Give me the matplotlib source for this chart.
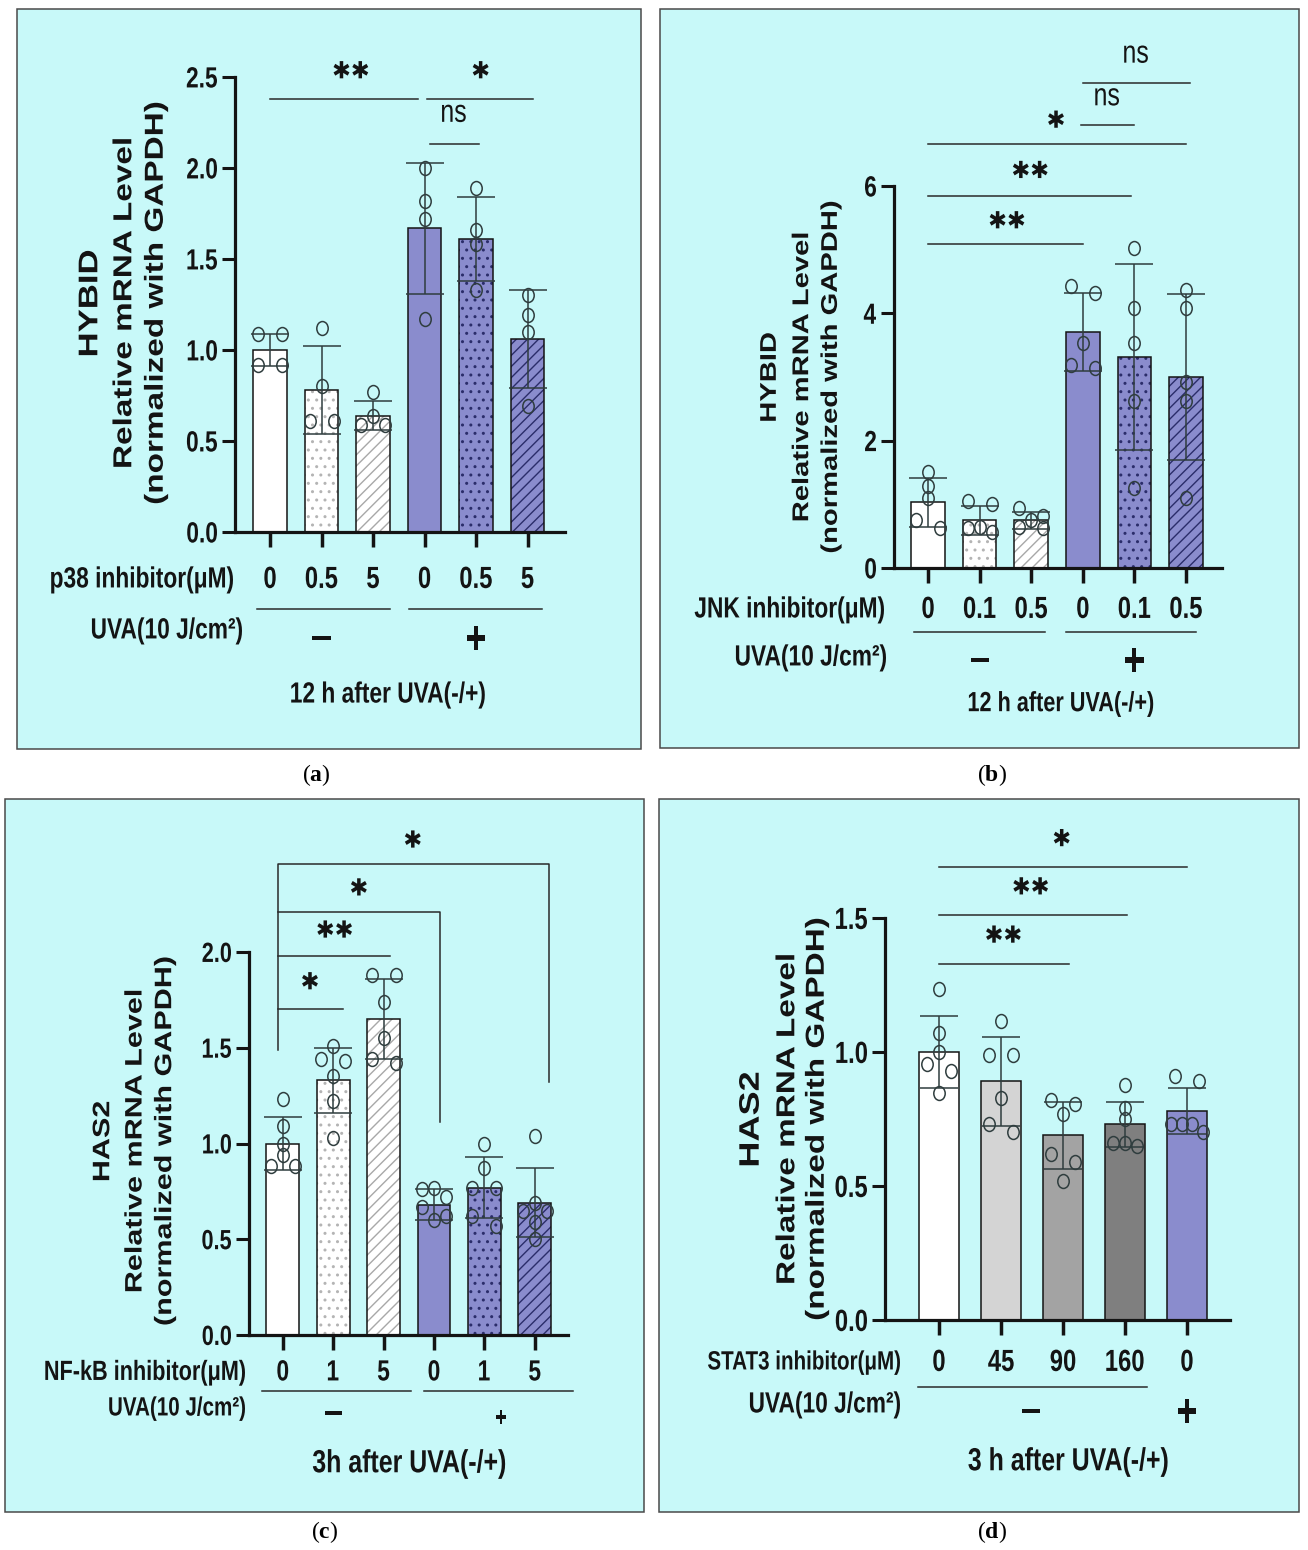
import numpy as np
import matplotlib
matplotlib.use('Agg')
import matplotlib.pyplot as plt
import matplotlib.transforms as mtransforms
from matplotlib.font_manager import FontProperties
from matplotlib.patches import PathPatch, Rectangle
from matplotlib.path import Path
from matplotlib.textpath import TextPath

W, H = 1308, 1550
DPI = 100
SQ = 0.78            # lettering is drawn horizontally condensed
INK = '#141414'
LINE = '#2a2a2a'
DOTC = '#2f3d3e'
BG = '#c8f9f9'
PURPLE = '#8a8ccd'

plt.rcParams['mathtext.fontset'] = 'custom'
plt.rcParams['mathtext.rm'] = 'Liberation Serif'
plt.rcParams['mathtext.bf'] = 'Liberation Serif:bold'

# ---------------- data ----------------
# (a) HYBID, p38 inhibitor, 12 h
a_dose = ['0', '0.5', '5', '0', '0.5', '5']
a_mean = [1.00, 0.78, 0.64, 1.67, 1.61, 1.06]
a_sd = [0.09, 0.24, 0.08, 0.36, 0.23, 0.27]
a_pts = [[1.09, 1.09, 0.92, 0.92],
         [1.12, 0.80, 0.61, 0.61],
         [0.77, 0.64, 0.59, 0.59],
         [2.00, 1.82, 1.72, 1.17],
         [1.89, 1.66, 1.58, 1.33],
         [1.30, 1.19, 1.10, 0.69]]

# (b) HYBID, JNK inhibitor, 12 h
b_dose = ['0', '0.1', '0.5', '0', '0.1', '0.5']
b_mean = [1.03, 0.75, 0.75, 3.71, 3.31, 3.00]
b_sd = [0.38, 0.23, 0.13, 0.61, 1.46, 1.30]
b_pts = [[1.51, 1.29, 1.105, 0.75, 0.63],
         [1.05, 1.00, 0.64, 0.63, 0.56],
         [0.95, 0.82, 0.76, 0.64, 0.63],
         [4.43, 4.32, 3.54, 3.19, 3.14],
         [5.03, 4.08, 3.54, 2.63, 1.25],
         [4.36, 4.09, 2.92, 2.62, 1.10]]

# (c) HAS2, NF-kB inhibitor, 3 h
c_dose = ['0', '1', '5', '0', '1', '5']
c_mean = [1.00, 1.33, 1.65, 0.68, 0.77, 0.69]
c_sd = [0.14, 0.17, 0.21, 0.08, 0.16, 0.18]
c_pts = [[1.23, 1.09, 1.00, 0.94, 0.885, 0.885],
         [1.51, 1.44, 1.43, 1.35, 1.22, 1.03],
         [1.88, 1.88, 1.74, 1.55, 1.44, 1.42],
         [0.77, 0.76, 0.72, 0.67, 0.62, 0.60],
         [1.00, 0.87, 0.77, 0.77, 0.62, 0.57],
         [1.04, 0.69, 0.65, 0.65, 0.59, 0.50]]

# (d) HAS2, STAT3 inhibitor, 3 h
d_dose = ['0', '45', '90', '160', '0']
d_mean = [1.00, 0.89, 0.69, 0.73, 0.78]
d_sd = [0.135, 0.165, 0.125, 0.085, 0.085]
d_pts = [[1.234, 1.07, 1.00, 0.957, 0.93, 0.847],
         [1.115, 0.99, 0.99, 0.83, 0.73, 0.70],
         [0.82, 0.807, 0.767, 0.62, 0.59, 0.52],
         [0.877, 0.79, 0.75, 0.66, 0.66, 0.65],
         [0.91, 0.89, 0.73, 0.73, 0.73, 0.70]]

fig = plt.figure(figsize=(W / DPI, H / DPI), dpi=DPI)
fig.patch.set_facecolor('white')


def stext(x, y, s, size, ha='center', va='center', rot=0, weight='bold',
          color=INK, sq=SQ, family='Liberation Sans'):
    """Text as a path, x/y in pixels from the top-left corner."""
    prop = FontProperties(family=family, weight=weight)
    tp = TextPath((0, 0), s, size=size, prop=prop)
    bb = tp.get_extents()
    ax_ = {'left': bb.x0, 'right': bb.x1, 'center': (bb.x0 + bb.x1) / 2}[ha]
    ay = (bb.y0 + bb.y1) / 2 if va == 'center' else 0.358 * size
    k = DPI / 72
    tr = (mtransforms.Affine2D().translate(-ax_, -ay).rotate_deg(rot)
          .scale(sq * k, k).translate(x, H - y))
    fig.add_artist(PathPatch(tp, transform=tr, facecolor=color,
                             edgecolor='none', zorder=5))


def box(x0, y0, x1, y1):
    fig.add_artist(Rectangle((x0 / W, 1 - y1 / H), (x1 - x0) / W, (y1 - y0) / H,
                             transform=fig.transFigure, facecolor=BG,
                             edgecolor='#4a4a4a', lw=1.1, zorder=-1))


def to_px(ax, x, y):
    dx, dy = ax.transData.transform((x, y))
    return dx, H - dy


def make_axes(left, y0, ytop, spacing, xlim, ylim, yticks):
    right = left + (xlim[1] - xlim[0]) * spacing
    ax = fig.add_axes([left / W, 1 - y0 / H, (right - left) / W, (y0 - ytop) / H])
    ax.set_xlim(xlim)
    ax.set_ylim(ylim)
    ax.patch.set_visible(False)
    for s in ['top', 'right']:
        ax.spines[s].set_visible(False)
    for s in ['left', 'bottom']:
        ax.spines[s].set_linewidth(2.3)
        ax.spines[s].set_color(INK)
    ax.set_yticks(yticks)
    ax.tick_params(axis='y', length=9.4, width=2.2, color=INK, labelleft=False)
    ax.tick_params(axis='x', length=11, width=2.5, color=INK, labelbottom=False)
    return ax


CIRC = Path.unit_circle().transformed(mtransforms.Affine2D().scale(0.82, 1))


def swarm(ax, groups):
    x0, y0 = ax.transData.transform((0, 0))
    x1, y1 = ax.transData.transform((1, 1))
    pxx, pxy = x1 - x0, y1 - y0
    xs, ys = [], []
    for i, vals in enumerate(groups):
        rows = []
        for v in sorted(vals, reverse=True):
            if rows and (rows[-1][0] - v) * pxy < 10:
                rows[-1].append(v)
            else:
                rows.append([v])
        for row in rows:
            n = len(row)
            if n == 1:
                offs = [0.0]
            elif n <= 3:
                offs = np.linspace(-12, 12, n)
            else:
                offs = np.linspace(-16, 16, n)
            slots = sorted(offs, key=lambda o: (abs(o), o))
            for v, o in zip(row, slots):
                xs.append(i + o / pxx)
                ys.append(v)
    ax.plot(xs, ys, ls='none', marker=CIRC, ms=10, mfc='none', mec=DOTC,
            mew=1.1, zorder=6, clip_on=False)


def bars(ax, mean, sd, pts, faces, hatches, hcolors):
    x = np.arange(len(mean))
    ax.bar(x, mean, 0.65, color=faces, edgecolor='none', zorder=2)
    for xi, m, hp, hc in zip(x, mean, hatches, hcolors):
        if hp:
            ax.bar(xi, m, 0.65, facecolor='none', edgecolor=hc, hatch=hp,
                   lw=0, zorder=2.5)
    ax.bar(x, mean, 0.65, facecolor='none', edgecolor=INK, lw=1.1, zorder=3)
    ax.errorbar(x, mean, yerr=sd, fmt='none', ecolor=DOTC, elinewidth=1.1,
                capsize=14, capthick=1.1, zorder=4)
    ax.set_xticks(x)
    swarm(ax, pts)


def sig_line(ax, xs, ys):
    ax.plot(xs, ys, color=LINE, lw=1.1, clip_on=False, zorder=4)


def stars(ax, x, y, n):
    px, py = to_px(ax, x, y)
    stext(px, py, '\u2731' * n, 17, sq=0.95, family='DejaVu Sans',
          weight='normal')


def ns(ax, x, y):
    px, py = to_px(ax, x, y)
    stext(px, py, 'ns', 23, weight='normal')


def yticklabels(ax, ticks, labels, size, gap=18):
    for t, lab in zip(ticks, labels):
        px, py = to_px(ax, ax.get_xlim()[0], t)
        stext(px - gap, py, lab, size, ha='right', va='cap')


def xrows(ax, doses, tick_y, tick_size, cond, cond_right, cond_size,
          uva_right, uva_y, uva_size, lines, line_y, minus, plus, sign_y,
          sign_sizes, time_txt, time_xy, time_size):
    for i, d in enumerate(doses):
        px, _ = to_px(ax, i, 0)
        stext(px, tick_y, d, tick_size, va='cap')
    stext(cond_right, tick_y, cond, cond_size, ha='right', va='cap')
    stext(uva_right, uva_y, 'UVA(10 J/cm\u00b2)', uva_size, ha='right', va='cap')
    tr = mtransforms.blended_transform_factory(ax.transData, fig.transFigure)
    for a, b in lines:
        ax.plot([a, b], [1 - line_y / H] * 2, transform=tr, color=LINE, lw=1.1,
                clip_on=False)
    px, _ = to_px(ax, minus, 0)
    stext(px, sign_y[0], '\u2013', sign_sizes[0])
    px, _ = to_px(ax, plus, 0)
    stext(px, sign_y[1], '+', sign_sizes[1])
    stext(time_xy[0], time_xy[1], time_txt, time_size)


def ylabels(gene, xs, yc, sizes):
    stext(xs[0], yc, gene, sizes[0], rot=90)
    stext(xs[1], yc, 'Relative mRNA Level', sizes[1], rot=90)
    stext(xs[2], yc, '(normalized with GAPDH)', sizes[1], rot=90)


# panel frames
box(17, 9, 641, 749)
box(660, 9, 1299, 748)
box(5, 799, 644, 1512)
box(659, 799, 1299, 1512)

W6 = ['white'] * 3 + [PURPLE] * 3
HP6 = [None, '..', '///', None, '..', '///']
HC6 = ['none', '#b4b4b4', '#a8a8a8', 'none', '#2b2d6a', '#2b2d6a']

# ---------------- (a) ----------------
ax = make_axes(235, 532, 77, 51.5, (-0.68, 5.73), (0, 2.5),
               [0, 0.5, 1.0, 1.5, 2.0, 2.5])
bars(ax, a_mean, a_sd, a_pts, W6, HP6, HC6)
yticklabels(ax, ax.get_yticks(), ['0.0', '0.5', '1.0', '1.5', '2.0', '2.5'], 21)
sig_line(ax, [0, 2.87], [2.38, 2.38])
sig_line(ax, [3.05, 5.1], [2.38, 2.38])
sig_line(ax, [3.1, 4.05], [2.13, 2.13])
stars(ax, 1.57, 2.54, 2)
stars(ax, 4.09, 2.54, 1)
ns(ax, 3.57, 2.30)
xrows(ax, a_dose, 577, 22, 'p38 inhibitor(\u03bcM)', 233, 21,
      242, 628, 21, [(-0.25, 2.33), (2.70, 5.28)], 609, 1, 4, (638, 638),
      (34, 34), '12 h after UVA(-/+)', (388, 695), 21)
ylabels('HYBID', (88, 122, 156), 303, (25, 24))

# ---------------- (b) ----------------
ax = make_axes(894, 568, 186, 51.6, (-0.66, 5.70), (0, 6), [0, 2, 4, 6])
bars(ax, b_mean, b_sd, b_pts, W6, HP6, HC6)
yticklabels(ax, ax.get_yticks(), ['0', '2', '4', '6'], 21)
sig_line(ax, [0, 3.0], [5.09, 5.09])
sig_line(ax, [0, 3.93], [5.85, 5.85])
sig_line(ax, [0, 5.0], [6.66, 6.66])
sig_line(ax, [2.97, 3.99], [6.96, 6.96])
sig_line(ax, [3.0, 5.08], [7.61, 7.61])
stars(ax, 1.53, 5.47, 2)
stars(ax, 1.98, 6.26, 2)
stars(ax, 2.48, 7.05, 1)
ns(ax, 3.47, 7.40)
ns(ax, 4.03, 8.07)
xrows(ax, b_dose, 607, 22, 'JNK inhibitor(\u03bcM)', 884, 21,
      886, 655, 21, [(-0.27, 2.27), (2.68, 5.2)], 632, 1, 4, (660, 660),
      (34, 34), '12 h after UVA(-/+)', (1061, 704), 20)
ylabels('HYBID', (768, 800, 831), 377, (21, 21))

# ---------------- (c) ----------------
ax = make_axes(249, 1335, 952, 50.4, (-0.67, 5.65), (0, 2.0),
               [0, 0.5, 1.0, 1.5, 2.0])
bars(ax, c_mean, c_sd, c_pts, W6, HP6, HC6)
yticklabels(ax, ax.get_yticks(), ['0.0', '0.5', '1.0', '1.5', '2.0'], 20)
sig_line(ax, [-0.1, -0.1, 5.28, 5.28], [1.49, 2.46, 2.46, 1.32])
sig_line(ax, [-0.1, 3.12, 3.12], [2.21, 2.21, 1.11])
sig_line(ax, [-0.1, 2.12], [1.98, 1.98])
sig_line(ax, [-0.1, 1.19], [1.70, 1.70])
stars(ax, 2.58, 2.59, 1)
stars(ax, 1.51, 2.34, 1)
stars(ax, 1.03, 2.12, 2)
stars(ax, 0.54, 1.85, 1)
xrows(ax, c_dose, 1370, 21, 'NF-kB inhibitor(\u03bcM)', 245, 20,
      245, 1406, 19, [(-0.42, 2.54), (2.8, 5.75)], 1391, 1, 4.33, (1413, 1417),
      (32, 20), '3h after UVA(-/+)', (409, 1464), 23)
ylabels('HAS2', (101, 133, 165), 1141, (22, 22))

# ---------------- (d) ----------------
ax = make_axes(885, 1320, 918, 62, (-0.87, 4.69), (0, 1.5),
               [0, 0.5, 1.0, 1.5])
bars(ax, d_mean, d_sd, d_pts,
     ['white', '#d4d4d4', '#a3a3a3', '#7f7f7f', PURPLE],
     [None] * 5, ['none'] * 5)
yticklabels(ax, ax.get_yticks(), ['0.0', '0.5', '1.0', '1.5'], 22)
sig_line(ax, [0, 4.0], [1.69, 1.69])
sig_line(ax, [0, 3.03], [1.51, 1.51])
sig_line(ax, [0, 2.1], [1.33, 1.33])
stars(ax, 1.98, 1.80, 1)
stars(ax, 1.48, 1.62, 2)
stars(ax, 1.04, 1.44, 2)
xrows(ax, d_dose, 1360, 22, 'STAT3 inhibitor(\u03bcM)', 900, 19,
      900, 1402, 21, [(-0.33, 3.35)], 1387, 1.48, 4, (1411, 1411),
      (34, 34), '3 h after UVA(-/+)', (1068, 1462), 23)
ylabels('HAS2', (749, 785, 817), 1119, (26, 24))

# panel letters
for lab, x, y in [('a', 316, 775), ('b', 992, 775), ('c', 325, 1532), ('d', 992, 1532)]:
    fig.text(x / W, 1 - y / H, r'$\mathrm{(}\mathbf{%s}\mathrm{)}$' % lab,
             fontsize=17, ha='center', va='center')

fig.savefig('out.png', dpi=DPI)
